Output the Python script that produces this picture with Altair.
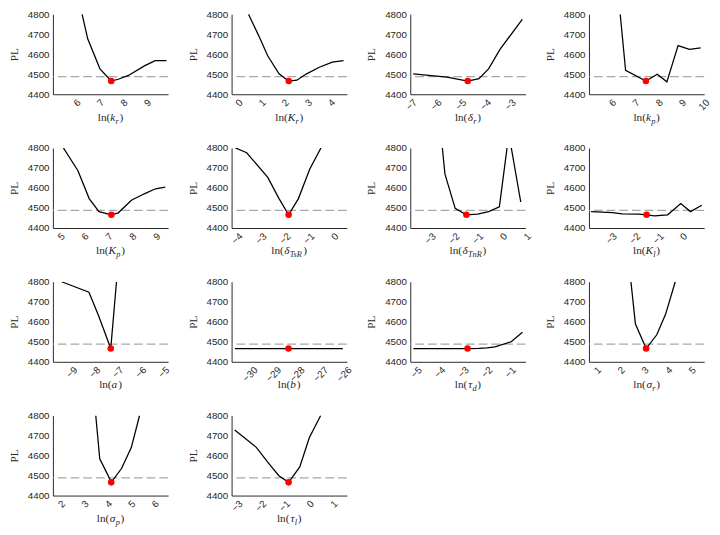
import altair as alt
import pandas as pd

PL_MIN = 4466
PL_THRESH = 4488
Y_TICKS = [4400, 4500, 4600, 4700, 4800]

# ---- profile data (x in log scale, PL values) ----
KR_X = [6.29, 6.53, 7.05, 7.53, 7.83, 8.26, 8.96, 9.40, 9.88]
KR_PL = [4800, 4677, 4527, 4466, 4475, 4494, 4543, 4568, 4568]
KR_MLE = 7.53

KRB_X = [0.48, 0.90, 1.31, 1.80, 2.22, 2.57, 2.99, 3.54, 4.10, 4.59]
KRB_PL = [4800, 4698, 4592, 4502, 4466, 4470, 4502, 4535, 4560, 4568]
KRB_MLE = 2.22

DR_X = [-6.93, -5.57, -4.73, -4.28, -3.89, -3.43, -2.53]
DR_PL = [4502, 4486, 4466, 4478, 4527, 4624, 4774]
DR_MLE = -4.73

KP_X = [6.40, 6.63, 7.50, 7.99, 8.40, 8.88, 9.37, 9.85]
KP_PL = [4800, 4519, 4466, 4500, 4462, 4643, 4624, 4632]
KP_MLE = 7.50

KPB_X = [5.16, 5.77, 6.24, 6.65, 7.17, 7.46, 8.01, 8.55, 9.02, 9.43]
KPB_PL = [4800, 4686, 4547, 4482, 4466, 4476, 4539, 4571, 4596, 4604]
KPB_MLE = 7.17

DTS_X = [-4.08, -3.61, -2.73, -2.26, -1.86, -1.45, -0.98, -0.51]
DTS_PL = [4800, 4776, 4653, 4547, 4466, 4547, 4694, 4800]
DTS_MLE = -1.86

DTN_X = [-2.50, -2.39, -1.96, -1.49, -1.02, -0.55, -0.10, 0.30, 0.80]
DTN_PL = [4800, 4669, 4498, 4466, 4469, 4482, 4506, 4870, 4530]
DTN_MLE = -1.49

KL_X = [-3.88, -2.97, -2.55, -1.86, -1.51, -1.17, -0.61, -0.05, 0.36, 0.85]
KL_PL = [4482, 4477, 4471, 4469, 4466, 4461, 4466, 4522, 4482, 4514]
KL_MLE = -1.51

A_X = [-9.46, -8.27, -7.85, -7.32, -7.07]
A_PL = [4800, 4748, 4630, 4466, 4800]
A_MLE = -7.32

B_X = [-30.74, -29.6, -28.46, -27.3, -26.15]
B_PL = [4466, 4466, 4466, 4466, 4466]
B_MLE = -28.46

TD_X = [-5.14, -3.73, -2.83, -2.35, -2.0, -1.66, -0.97, -0.49]
TD_PL = [4466, 4466, 4466, 4467, 4469, 4475, 4500, 4548]
TD_MLE = -2.83

SR_X = [2.48, 2.67, 3.03, 3.12, 3.57, 3.94, 4.35]
SR_PL = [4800, 4589, 4491, 4466, 4535, 4637, 4800]
SR_MLE = 3.12

SP_X = [3.53, 3.70, 4.01, 4.19, 4.63, 5.05, 5.40]
SP_PL = [4800, 4584, 4511, 4466, 4535, 4641, 4800]
SP_MLE = 4.19

TL_X = [-3.11, -2.20, -1.72, -1.25, -0.84, -0.37, 0.03, 0.51]
TL_PL = [4727, 4641, 4567, 4499, 4466, 4543, 4689, 4800]
TL_MLE = -0.84

# (variable, subscript, x, pl, mle, axis domain, tick values)
PANELS = [
    ("k", "r", KR_X, KR_PL, KR_MLE, [5.05, 9.95], [6, 7, 8, 9]),
    ("K", "r", KRB_X, KRB_PL, KRB_MLE, [-0.25, 4.73], [0, 1, 2, 3, 4]),
    ("δ", "r", DR_X, DR_PL, DR_MLE, [-7.05, -2.4], [-7, -6, -5, -4, -3]),
    ("k", "p", KP_X, KP_PL, KP_MLE, [5.06, 10.0], [6, 7, 8, 9, 10]),
    ("K", "p", KPB_X, KPB_PL, KPB_MLE, [4.72, 9.55], [5, 6, 7, 8, 9]),
    ("δ", "TsR", DTS_X, DTS_PL, DTS_MLE, [-4.24, 0.57], [-4, -3, -2, -1, 0]),
    ("δ", "TnR", DTN_X, DTN_PL, DTN_MLE, [-3.85, 1.0], [-3, -2, -1, 0, 1]),
    ("K", "l", KL_X, KL_PL, KL_MLE, [-3.97, 0.95], [-3, -2, -1, 0]),
    ("a", "", A_X, A_PL, A_MLE, [-9.84, -4.82], [-9, -8, -7, -6, -5]),
    ("b", "", B_X, B_PL, B_MLE, [-30.88, -25.98], [-30, -29, -28, -27, -26]),
    ("τ", "d", TD_X, TD_PL, TD_MLE, [-5.27, -0.36], [-5, -4, -3, -2, -1]),
    ("σ", "r", SR_X, SR_PL, SR_MLE, [0.71, 5.57], [1, 2, 3, 4, 5]),
    ("σ", "p", SP_X, SP_PL, SP_MLE, [1.7, 6.62], [2, 3, 4, 5, 6]),
    ("τ", "l", TL_X, TL_PL, TL_MLE, [-3.24, 1.61], [-3, -2, -1, 0, 1]),
]

W, H = 118, 82
TXT = "#262626"
AX = "#262626"
SERIF = "Liberation Serif"
SANS = "Liberation Sans"

UP_W = {"l": 0.278, "n": 0.5, "(": 0.333, ")": 0.333}
IT_W = {"k": 0.444, "K": 0.667, "a": 0.5, "b": 0.5, "r": 0.389, "p": 0.5,
        "l": 0.278, "d": 0.5, "s": 0.389, "n": 0.5, "T": 0.556, "R": 0.611,
        "δ": 0.5, "τ": 0.44, "σ": 0.55}


def tw(s, fs, table):
    return sum(table.get(c, 0.5) for c in s) * fs


def text_layer(s, x, y, align, fs, style):
    return alt.Chart(pd.DataFrame({"t": [s]})).mark_text(
        align=align, baseline="alphabetic", font=SERIF, fontSize=fs,
        fontStyle=style, color=TXT
    ).encode(x=alt.value(x), y=alt.value(y), text="t:N")


def panel(var, sub, xs, pls, mle, dom, ticks):
    df = pd.DataFrame({"x": xs, "pl": pls})
    xenc = alt.X("x:Q", scale=alt.Scale(domain=dom, nice=False, zero=False),
                 axis=alt.Axis(values=ticks, labelAngle=-45, title=None, grid=False,
                               ticks=False, tickSize=0, labelPadding=3, format="d",
                               labelFont=SANS, labelFontSize=10, labelColor=TXT,
                               domainColor=AX, labelFlush=False, labelOverlap=False))
    yenc = alt.Y("pl:Q", scale=alt.Scale(domain=[4400, 4800], nice=False, zero=False),
                 axis=alt.Axis(values=Y_TICKS, title="PL", grid=False, ticks=False,
                               tickSize=0, labelPadding=4, labelFont=SANS, format="d",
                               labelFontSize=10, labelColor=TXT, domainColor=AX,
                               titleFont=SERIF, titleFontSize=11.5, titleFontWeight="normal",
                               titleColor=TXT, titlePadding=8, labelFlush=False))
    line = alt.Chart(df).mark_line(color="black", strokeWidth=1.3, clip=True).encode(
        x=xenc, y=yenc)
    rule = alt.Chart(pd.DataFrame({"pl": [PL_THRESH]})).mark_rule(
        color="#a8a8a8", strokeWidth=1.2, strokeDash=[9, 4]).encode(y=yenc)
    dot = alt.Chart(pd.DataFrame({"x": [mle], "pl": [PL_MIN]})).mark_circle(
        color="#ff0000", opacity=1, size=45).encode(x=xenc, y=yenc)

    fs, fss = 11.5, 8.5
    w_ln = tw("ln(", fs, UP_W)
    w_var = tw(var, fs, IT_W)
    w_sub = tw(sub, fss, IT_W)
    w_cl = tw(")", fs, UP_W)
    total = w_ln + w_var + w_sub + w_cl + 1
    xa = W / 2 - total / 2 + w_ln + w_var
    yb = H + 27
    layers = [rule, line, dot,
              text_layer("ln(", xa - w_var, yb, "right", fs, "normal"),
              text_layer(var, xa, yb, "right", fs, "italic")]
    if sub:
        layers.append(text_layer(sub, xa + 0.3, yb + 3, "left", fss, "italic"))
    layers.append(text_layer(")", xa + w_sub + 1, yb, "left", fs, "normal"))
    return alt.layer(*layers).properties(width=W, height=H)


charts = [panel(*p) for p in PANELS]
chart = alt.concat(*charts, columns=4, spacing={"row": 55, "column": 65},
                   bounds="flush").properties(
    padding={"left": 0, "top": -5, "right": 0, "bottom": 0}
).configure_view(stroke=None)

chart.save("out.html", embed_options={"renderer": "svg", "actions": False})
